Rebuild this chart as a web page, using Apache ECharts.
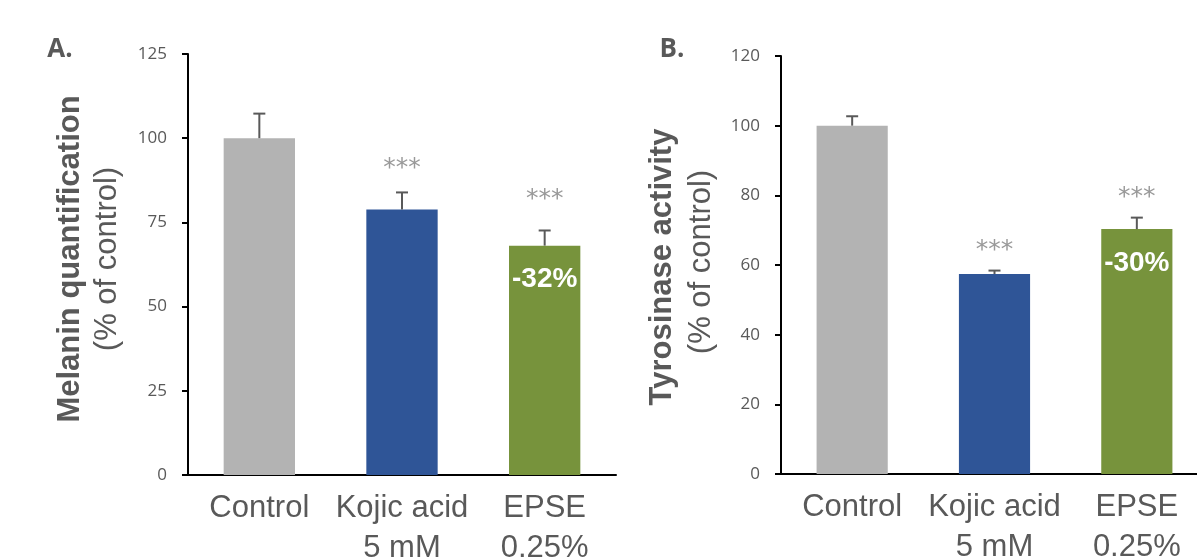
<!DOCTYPE html>
<html>
<head>
<meta charset="utf-8">
<script src="https://cdn.jsdelivr.net/npm/echarts@6/dist/echarts.min.js"></script>
<style>
html,body{margin:0;padding:0;background:#fff;}
#chart{width:1197px;height:557px;}
</style>
</head>
<body>
<div id="chart"></div>
<script>
// ---- data ----
const categories = ['Control', 'Kojic acid\n5 mM', 'EPSE\n0.25%'];
const barColors = ['#b3b3b3', '#2f5597', '#77933c'];

const melaninValues = [100, 78.8, 68.1];
const melaninErr = [7.3, 5.1, 4.5];
const melaninStars = [null, 92.4, 83.2];
const melaninPct = ['', '', '-32%'];

const tyrosinaseValues = [100, 57.4, 70.3];
const tyrosinaseErr = [2.7, 1.0, 3.3];
const tyrosinaseStars = [null, 65.5, 80.8];
const tyrosinasePct = ['', '', '-30%'];

const melaninAxis = { min: 0, max: 125, interval: 25 };
const tyrosinaseAxis = { min: 0, max: 120, interval: 20 };

const titlesA = ['Melanin quantification', '(% of control)'];
const titlesB = ['Tyrosinase activity', '(% of control)'];
const panelLabels = ['A.', 'B.'];

// ---- styles ----
const grey = '#595959';

const chart = echarts.init(document.getElementById('chart'), null, { renderer: 'canvas' });

function xAxisFor(idx) {
  return {
    type: 'category', gridIndex: idx, data: categories,
    axisLine: { lineStyle: { color: '#000', width: 2 } },
    axisTick: { show: false },
    axisLabel: { interval: 0, fontFamily: 'Liberation Sans, Arial, sans-serif', fontSize: 31, color: grey, lineHeight: 40, margin: 13 }
  };
}
function yAxisFor(idx, ax) {
  return {
    type: 'value', gridIndex: idx, min: ax.min, max: ax.max, interval: ax.interval,
    splitLine: { show: false },
    axisLine: { show: true, lineStyle: { color: '#000', width: 2 } },
    axisTick: { show: true, length: 6, lineStyle: { color: '#000', width: 2 } },
    axisLabel: { fontFamily: 'Open Sans, sans-serif', fontSize: 17, color: grey, margin: 21 }
  };
}
function barSeries(idx, values, pct) {
  return {
    type: 'bar', xAxisIndex: idx, yAxisIndex: idx, barWidth: '50%',
    data: values.map((v, i) => ({
      value: v,
      itemStyle: { color: barColors[i] },
      label: {
        show: !!pct[i], formatter: pct[i], position: 'insideTop', distance: 20,
        color: '#fff', fontWeight: 'bold', fontSize: 28, fontFamily: 'Liberation Sans, Arial, sans-serif'
      }
    })),
    animation: false
  };
}
function errSeries(idx, values, err) {
  return {
    type: 'custom', xAxisIndex: idx, yAxisIndex: idx, z: 5,
    data: values.map((v, i) => [i, v, v + err[i]]),
    renderItem: function (params, api) {
      const x = api.value(0);
      const base = api.coord([x, api.value(1)]);
      const top = api.coord([x, api.value(2)]);
      const st = { stroke: grey, lineWidth: 2 };
      return {
        type: 'group', children: [
          { type: 'line', shape: { x1: base[0], y1: base[1], x2: top[0], y2: top[1] }, style: st },
          { type: 'line', shape: { x1: top[0] - 6, y1: top[1], x2: top[0] + 6, y2: top[1] }, style: st }
        ]
      };
    },
    animation: false
  };
}
function starSeries(idx, stars) {
  return {
    type: 'scatter', xAxisIndex: idx, yAxisIndex: idx, symbolSize: 0, z: 6,
    data: stars.map((s, i) => (s == null ? [i, '-'] : [i, s])),
    label: {
      show: true, formatter: '***', position: 'inside', offset: [0, 5],
      fontFamily: 'DejaVu Sans, sans-serif', fontSize: 25, color: '#808080'
    },
    animation: false
  };
}
function vtext(x, y, text, font) {
  return {
    type: 'text', x: x, y: y, rotation: Math.PI / 2,
    style: { text: text, font: font, fill: grey, align: 'center', verticalAlign: 'middle', textAlign: 'center', textVerticalAlign: 'middle' }
  };
}
function htext(x, y, text, font) {
  return {
    type: 'text', x: x, y: y,
    style: { text: text, font: font, fill: grey, align: 'center', verticalAlign: 'middle', textAlign: 'center', textVerticalAlign: 'middle' }
  };
}

chart.setOption({
  animation: false,
  grid: [
    { left: 188, right: 581, top: 54, bottom: 82, containLabel: false, outerBoundsMode: 'none' },
    { left: 781, right: -11, top: 56, bottom: 83, containLabel: false, outerBoundsMode: 'none' }
  ],
  xAxis: [xAxisFor(0), xAxisFor(1)],
  yAxis: [yAxisFor(0, melaninAxis), yAxisFor(1, tyrosinaseAxis)],
  series: [
    barSeries(0, melaninValues, melaninPct),
    errSeries(0, melaninValues, melaninErr),
    starSeries(0, melaninStars),
    barSeries(1, tyrosinaseValues, tyrosinasePct),
    errSeries(1, tyrosinaseValues, tyrosinaseErr),
    starSeries(1, tyrosinaseStars)
  ],
  graphic: [
    vtext(70, 259, titlesA[0], 'bold 31px "Liberation Sans", Arial, sans-serif'),
    vtext(107, 259, titlesA[1], '31px "Liberation Sans", Arial, sans-serif'),
    vtext(662, 267, titlesB[0], 'bold 31px "Liberation Sans", Arial, sans-serif'),
    vtext(701, 262, titlesB[1], '31px "Liberation Sans", Arial, sans-serif'),
    htext(60, 50, panelLabels[0], 'bold 26px "Open Sans", sans-serif'),
    htext(672, 50, panelLabels[1], 'bold 26px "Open Sans", sans-serif')
  ]
});
</script>
</body>
</html>
